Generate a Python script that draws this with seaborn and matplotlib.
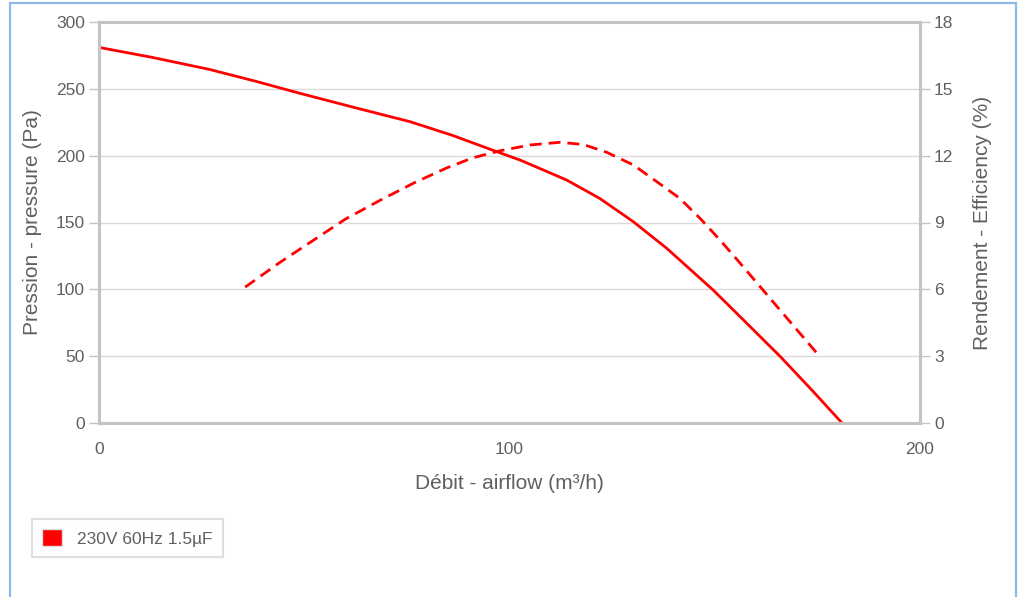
import numpy as np
import pandas as pd
import matplotlib
matplotlib.use("Agg")
import matplotlib.pyplot as plt
import matplotlib.patches as mpatches
import seaborn as sns

# ==============================
# Data
# ==============================
airflow = [0, 13, 26.8, 38, 49, 62, 75.8, 86, 96, 102.6, 108, 113.9, 122, 130.2, 138.3, 149.6, 158, 166, 174, 181]
pressure = [281, 273.5, 264.6, 255.8, 246.6, 236.2, 225.4, 215.3, 204, 196.7, 189.6, 181.8, 168, 150.5, 130.7, 99.5, 74, 49.6, 23.5, 0]

eff_airflow = [35.6, 44, 52.2, 60, 68.5, 77, 84.7, 91, 97.7, 105, 112.3, 118, 123.7, 130.2, 135.9, 141.5, 146.4, 151.3, 156.2, 165.9, 175.6]
efficiency = [6.1, 7.2, 8.2, 9.15, 10.0, 10.8, 11.45, 11.9, 12.22, 12.48, 12.6, 12.5, 12.15, 11.58, 10.83, 10.08, 9.19, 8.21, 7.17, 5.07, 2.98]

series_name = "230V 60Hz 1.5µF"

left_ticks = [0, 50, 100, 150, 200, 250, 300]
right_ticks = [0, 3, 6, 9, 12, 15, 18]
x_ticks = [0, 100, 200]

press = pd.DataFrame({"airflow": airflow, "pressure": pressure})
eff = pd.DataFrame({"airflow": eff_airflow, "efficiency": efficiency})

# ==============================
# Style
# ==============================
sns.set_style("white")
plt.rcParams["font.family"] = ["Liberation Sans", "DejaVu Sans"]

text_col = "#606060"
grid_col = "#d9d9d9"
spine_col = "#c4c4c4"
red = "#ff0000"

fig = plt.figure(figsize=(10.23, 5.97), dpi=100)
ax = fig.add_axes([99 / 1023, 1 - 423 / 597, 821 / 1023, 401 / 597])
ax2 = ax.twinx()

# ==============================
# Curves
# ==============================
sns.lineplot(data=press, x="airflow", y="pressure", ax=ax, color=red, linewidth=2.0)
sns.lineplot(data=eff, x="airflow", y="efficiency", ax=ax2, color=red, linewidth=2.0)
ax2.lines[0].set_dashes((4.3, 2.5))

ax.set_xlim(0, 200)
ax.set_ylim(0, 300)
ax2.set_ylim(0, 18)

ax.set_xticks(x_ticks)
ax.set_yticks(left_ticks)
ax2.set_yticks(right_ticks)

ax.yaxis.grid(True, color=grid_col, linewidth=1.0)
ax.xaxis.grid(False)
ax2.grid(False)

for a in (ax, ax2):
    for s in a.spines.values():
        s.set_color(spine_col)
        s.set_linewidth(2.2)
    a.tick_params(colors=text_col, labelsize=12.5, length=7, width=1, color=spine_col)

ax.tick_params(axis="y", pad=3)
ax.tick_params(axis="x", pad=7)
ax2.tick_params(axis="y", pad=3)

ax.set_xlabel("Débit - airflow (m³/h)", color=text_col, fontsize=15, labelpad=12)
ax.set_ylabel("Pression - pressure (Pa)", color=text_col, fontsize=15, labelpad=10)
ax2.set_ylabel("Rendement - Efficiency (%)", color=text_col, fontsize=15, labelpad=14)

# ==============================
# Legend
# ==============================
handle = mpatches.Patch(facecolor=red, edgecolor="#dddddd", label=series_name)
leg = fig.legend(
    handles=[handle],
    loc="upper left",
    bbox_to_anchor=(32 / 1023, 1 - 519 / 597),
    borderaxespad=0,
    frameon=True,
    fancybox=False,
    fontsize=12.5,
    handlelength=1.15,
    handleheight=1.1,
    handletextpad=0.85,
    borderpad=0.6,
    labelcolor=text_col,
)
leg.get_frame().set_edgecolor("#d8d8d8")
leg.get_frame().set_linewidth(1.5)

# ==============================
# Blue border of the widget
# ==============================
border = mpatches.Rectangle(
    (10 / 1023, -0.05), 1006 / 1023, 1.05 - 3 / 597,
    transform=fig.transFigure, fill=False, edgecolor="#8fb8ea", linewidth=1.6,
)
fig.patches.append(border)

fig.savefig("out.png", dpi=100)
plt.close()
